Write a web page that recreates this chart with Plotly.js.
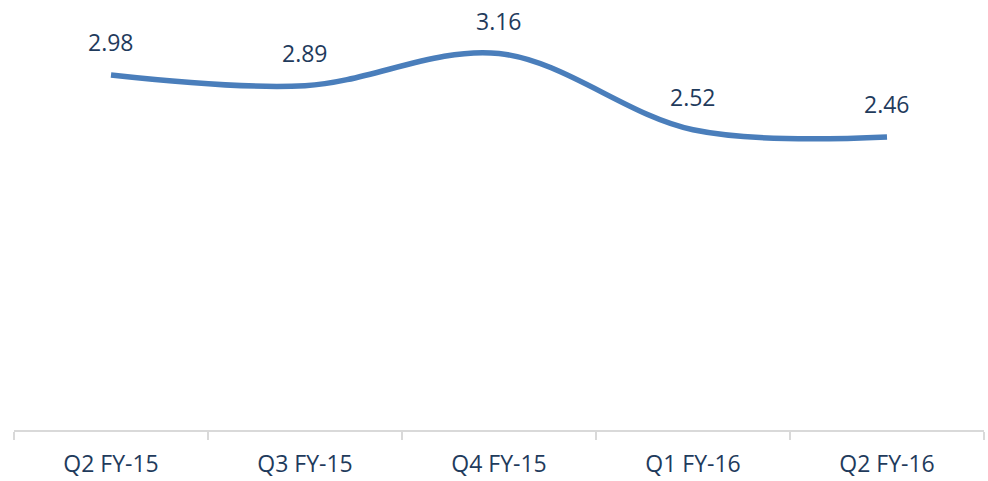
<!DOCTYPE html>
<html>
<head>
<meta charset="utf-8">
<script src="https://cdn.plot.ly/plotly-3.0.1.min.js"></script>
<style>html,body{margin:0;padding:0;background:#fff;}#chart{width:988px;height:481px;}</style>
</head>
<body>
<div id="chart"></div>
<script>
const categories = ["Q2 FY-15", "Q3 FY-15", "Q4 FY-15", "Q1 FY-16", "Q2 FY-16"];
const values = [2.98, 2.89, 3.16, 2.52, 2.46];
const labels = values.map(v => v.toFixed(2));

const textColor = "#1f3b5c";
const lineColor = "#4a7ebb";

const trace = {
  x: categories,
  y: values,
  type: "scatter",
  mode: "lines",
  line: {color: lineColor, width: 5.5, shape: "spline", smoothing: 1},
  hoverinfo: "skip"
};

const annotations = categories.map((c, i) => ({
  x: c, y: values[i], xref: "x", yref: "y",
  text: labels[i], showarrow: false, yshift: 33,
  font: {family: "Open Sans, sans-serif", size: 23, color: textColor}
}));

const layout = {
  width: 988, height: 481,
  margin: {l: 14, r: 4, t: 13, b: 51},
  paper_bgcolor: "#fff", plot_bgcolor: "#fff",
  showlegend: false,
  xaxis: {
    type: "category",
    showgrid: false, zeroline: false,
    showline: true, linecolor: "#d9d9d9", linewidth: 2,
    ticks: "outside", tickson: "boundaries", ticklen: 8, tickcolor: "#d9d9d9", tickwidth: 2,
    ticklabelstandoff: 12,
    tickfont: {family: "Open Sans, sans-serif", size: 23, color: textColor},
    range: [-0.5, 4.5]
  },
  yaxis: {
    range: [0, 3.5],
    showgrid: false, zeroline: false, showline: false, showticklabels: false, ticks: ""
  },
  annotations: annotations
};

Plotly.newPlot("chart", [trace], layout, {displayModeBar: false, staticPlot: true});
</script>
</body>
</html>
